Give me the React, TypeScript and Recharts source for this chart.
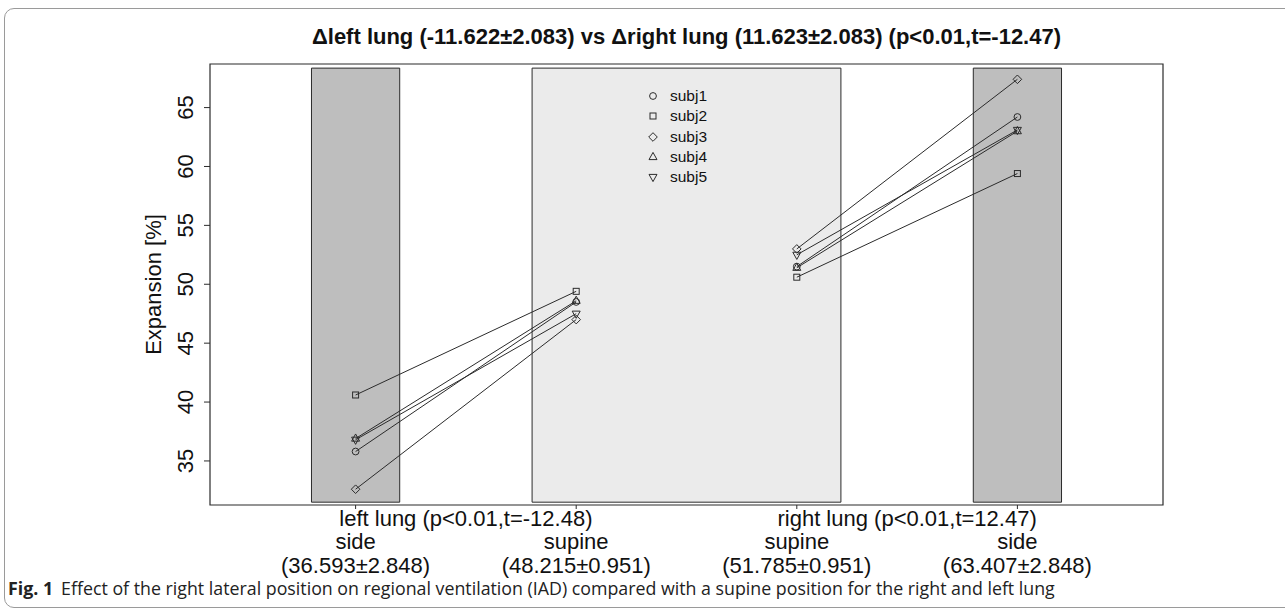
import React from 'react';
import { ComposedChart, Scatter, XAxis, YAxis, ReferenceArea, ReferenceLine } from 'recharts';

const subjects = ['subj1', 'subj2', 'subj3', 'subj4', 'subj5'];
const markerTypes = ['circle', 'square', 'diamond', 'triangle', 'triangleDown'];
const positions = [1, 2, 3, 4];
const positionNames = ['side', 'supine', 'supine', 'side'];
const positionStats = ['(36.593±2.848)', '(48.215±0.951)', '(51.785±0.951)', '(63.407±2.848)'];
const leftSide = [35.8, 40.6, 32.6, 36.9, 36.8];
const leftSupine = [48.5, 49.4, 47.0, 48.6, 47.5];
const rightSupine = [51.5, 50.6, 53.0, 51.4, 52.5];
const rightSide = [64.2, 59.4, 67.4, 63.0, 63.1];
const groupLabels = ['left lung (p<0.01,t=-12.48)', 'right lung (p<0.01,t=12.47)'];
const groupCenters = [1.5, 3.5];
const yTicks = [35, 40, 45, 50, 55, 60, 65];
const sideBands = [[0.8, 1.2], [3.8, 4.2]];
const supineBand = [1.8, 3.2];
const bandY = [31.5, 68.35];
const xDomain = [0.34, 4.66];
const yDomain = [31.26, 68.7];
const titleText = 'Δleft lung (-11.622±2.083) vs Δright lung (11.623±2.083) (p<0.01,t=-12.47)';
const yTitle = 'Expansion [%]';

const INK = '#2b2b2b';
const FONT = '"Liberation Sans", Arial, Helvetica, sans-serif';

function Marker({ cx, cy, type }: { cx: number; cy: number; type: string }) {
  const common = { fill: 'none', stroke: INK, strokeWidth: 1 };
  switch (type) {
    case 'circle':
      return <circle cx={cx} cy={cy} r={3.4} {...common} />;
    case 'square':
      return <rect x={cx - 3} y={cy - 3} width={6} height={6} {...common} />;
    case 'diamond':
      return <polygon points={`${cx},${cy - 4.3} ${cx + 4.3},${cy} ${cx},${cy + 4.3} ${cx - 4.3},${cy}`} {...common} />;
    case 'triangle':
      return <polygon points={`${cx},${cy - 4.6} ${cx + 4},${cy + 2.6} ${cx - 4},${cy + 2.6}`} {...common} />;
    default:
      return <polygon points={`${cx},${cy + 4.6} ${cx + 4},${cy - 2.6} ${cx - 4},${cy - 2.6}`} {...common} />;
  }
}

const segments: { key: string; type: string; data: { x: number; y: number }[] }[] = [];
subjects.forEach((s, i) => {
  segments.push({
    key: s + '-left',
    type: markerTypes[i],
    data: [
      { x: positions[0], y: leftSide[i] },
      { x: positions[1], y: leftSupine[i] },
    ],
  });
  segments.push({
    key: s + '-right',
    type: markerTypes[i],
    data: [
      { x: positions[2], y: rightSupine[i] },
      { x: positions[3], y: rightSide[i] },
    ],
  });
});

const YTick = (p: any) => (
  <text
    transform={`translate(${p.x - 17},${p.y}) rotate(-90)`}
    textAnchor="middle"
    dominantBaseline="central"
    fontSize={22}
    fontFamily={FONT}
    fill="#111"
  >
    {p.payload.value}
  </text>
);

const XTick = (p: any) => {
  const idx = positions.indexOf(p.payload.value);
  return (
    <g>
      <text x={p.x} y={p.y + 38} textAnchor="middle" fontSize={22} fontFamily={FONT} fill="#111">
        {positionNames[idx]}
      </text>
      <text x={p.x} y={p.y + 62} textAnchor="middle" fontSize={22} fontFamily={FONT} fill="#111">
        {positionStats[idx]}
      </text>
    </g>
  );
};

export default function App() {
  return (
    <div
      style={{
        position: 'fixed',
        left: 0,
        top: 0,
        width: 1285,
        height: 615,
        overflow: 'hidden',
        background: '#fff',
      }}
    >
      <div
        style={{
          position: 'absolute',
          left: 4,
          top: 8,
          width: 1330,
          height: 600,
          border: '1px solid #9a9a9a',
          borderRadius: 10,
          boxSizing: 'border-box',
        }}
      />
      <div
        style={{
          position: 'absolute',
          left: 210,
          width: 953,
          top: 25,
          textAlign: 'center',
          fontFamily: FONT,
          fontWeight: 'bold',
          fontSize: 22,
          lineHeight: '24px',
          color: '#111',
          whiteSpace: 'nowrap',
        }}
      >
        {titleText}
      </div>
      <div style={{ position: 'absolute', left: 0, top: 0 }}>
        <ComposedChart
          width={1285}
          height={615}
          margin={{ top: 64, right: 122, bottom: 50, left: 150 }}
        >
          <XAxis
            dataKey="x"
            type="number"
            domain={xDomain}
            ticks={positions}
            axisLine={false}
            tickLine={{ stroke: INK }}
            tickSize={4}
            tickMargin={2}
            height={60}
            tick={<XTick />}
            allowDataOverflow
          />
          <YAxis
            dataKey="y"
            type="number"
            domain={yDomain}
            ticks={yTicks}
            axisLine={false}
            tickLine={{ stroke: INK }}
            tickSize={6}
            tickMargin={2}
            width={60}
            tick={<YTick />}
            allowDataOverflow
            label={{
              value: yTitle,
              content: (props: any) => {
                const vb = props.viewBox;
                return (
                  <text
                    transform={`translate(${vb.x + 3},${vb.y + vb.height / 2}) rotate(-90)`}
                    textAnchor="middle"
                    dominantBaseline="central"
                    fontSize={22}
                    fontFamily={FONT}
                    fill="#111"
                  >
                    {yTitle}
                  </text>
                );
              },
            }}
          />
          {sideBands.map((b, i) => (
            <ReferenceArea
              key={'side' + i}
              x1={b[0]}
              x2={b[1]}
              y1={bandY[0]}
              y2={bandY[1]}
              fill="#bebebe"
              fillOpacity={1}
              stroke={INK}
              strokeWidth={1}
            />
          ))}
          <ReferenceArea
            x1={supineBand[0]}
            x2={supineBand[1]}
            y1={bandY[0]}
            y2={bandY[1]}
            fill="#ebebeb"
            fillOpacity={1}
            stroke={INK}
            strokeWidth={1}
          />
          <ReferenceArea
            x1={xDomain[0]}
            x2={xDomain[1]}
            y1={yDomain[0]}
            y2={yDomain[1]}
            fill="none"
            fillOpacity={0}
            stroke={INK}
            strokeWidth={1.2}
          />
          {groupCenters.map((c, i) => (
            <ReferenceLine
              key={'g' + i}
              x={c}
              stroke="none"
              strokeOpacity={0}
              label={{
                value: groupLabels[i],
                content: (props: any) => {
                  const vb = props.viewBox;
                  return (
                    <text
                      x={vb.x}
                      y={vb.y + vb.height + 21}
                      textAnchor="middle"
                      fontSize={22}
                      fontFamily={FONT}
                      fill="#111"
                    >
                      {groupLabels[i]}
                    </text>
                  );
                },
              }}
            />
          ))}
          {segments.map((seg) => (
            <Scatter
              key={seg.key}
              data={seg.data}
              line={{ stroke: INK, strokeWidth: 1 }}
              isAnimationActive={false}
              shape={(p: any) => <Marker cx={p.cx} cy={p.cy} type={seg.type} />}
            />
          ))}
        </ComposedChart>
      </div>
      <div
        style={{
          position: 'absolute',
          left: 645,
          top: 86,
          fontFamily: FONT,
          fontSize: 15.5,
          color: '#111',
        }}
      >
        {subjects.map((s, i) => (
          <div key={s} style={{ display: 'flex', alignItems: 'center', height: 20.3 }}>
            <svg width={18} height={20} style={{ display: 'block' }}>
              <Marker cx={8} cy={10} type={markerTypes[i]} />
            </svg>
            <span style={{ marginLeft: 7 }}>{s}</span>
          </div>
        ))}
      </div>
      <div
        style={{
          position: 'absolute',
          left: 8,
          top: 575,
          fontFamily: '"Open Sans", sans-serif',
          fontSize: 17.8,
          lineHeight: '26px',
          color: '#222',
          whiteSpace: 'nowrap',
        }}
      >
        <b style={{ fontWeight: 700 }}>Fig. 1</b>
        <span style={{ marginLeft: 8 }}>
          Effect of the right lateral position on regional ventilation (IAD) compared with a supine position for the right and left lung
        </span>
      </div>
    </div>
  );
}
